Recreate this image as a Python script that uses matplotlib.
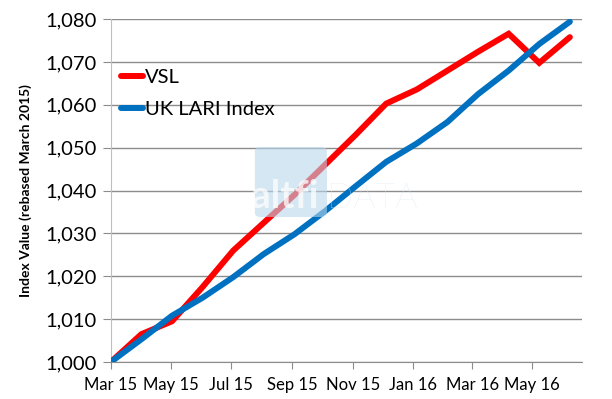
import matplotlib
matplotlib.use("Agg")
import matplotlib.pyplot as plt
import matplotlib.dates as mdates
from matplotlib.patches import FancyBboxPatch
from matplotlib.ticker import FuncFormatter
import pandas as pd

# data points every ~31 days from March 2015
dates = pd.date_range("2015-03-01", periods=16, freq="31D")
vsl = [1000.0, 1006.5, 1009.5, 1017.5, 1026.0, 1032.5, 1039.0, 1046.0,
       1053.0, 1060.3, 1063.6, 1068.0, 1072.4, 1076.6, 1069.8, 1075.8]
lari = [1000.0, 1005.3, 1010.8, 1015.0, 1019.8, 1025.2, 1029.8, 1035.2,
        1041.0, 1046.7, 1051.0, 1056.0, 1062.5, 1068.0, 1074.2, 1079.4]
series_labels = ["VSL", "UK LARI Index"]
y_label = "Index Value (rebased March 2015)"

plt.rcParams["font.family"] = ["Lato", "DejaVu Sans"]

fig = plt.figure(figsize=(6.12, 3.99), dpi=100)
ax = fig.add_axes([0.181, 0.0927, 0.7695, 0.8593])

ax.plot(dates, vsl, color="#ff0000", lw=4.3, solid_capstyle="round",
        solid_joinstyle="miter", label=series_labels[0], zorder=3)
ax.plot(dates, lari, color="#0070c0", lw=4.3, solid_capstyle="round",
        solid_joinstyle="miter", label=series_labels[1], zorder=4)

ax.set_ylim(1000, 1080)
ax.set_yticks(range(1000, 1081, 10))
ax.yaxis.set_major_formatter(FuncFormatter(lambda v, p: f"{v:,.0f}"))
ax.set_xlim(pd.Timestamp("2015-03-01"), pd.Timestamp("2016-06-20"))
ax.xaxis.set_major_locator(mdates.MonthLocator(bymonth=[1, 3, 5, 7, 9, 11]))
ax.xaxis.set_major_formatter(mdates.DateFormatter("%b %y"))

ax.grid(axis="y", color="#8c8c8c", lw=1.0, zorder=0)
for s in ["top", "right"]:
    ax.spines[s].set_visible(False)
ax.spines["left"].set_color("#bfbfbf")
ax.spines["bottom"].set_color("#8c8c8c")
ax.tick_params(axis="y", length=6, color="#8c8c8c", labelsize=14.5, pad=4)
ax.tick_params(axis="x", length=5, color="#8c8c8c", labelsize=12, pad=6)

ax.set_ylabel(y_label, fontsize=10, fontweight="bold", labelpad=10)

leg = ax.legend(loc="upper left", bbox_to_anchor=(0.022, 0.855), frameon=False,
                fontsize=14.5, handlelength=1.1, handletextpad=0.1,
                labelspacing=0.75, borderaxespad=0, borderpad=0)
for h in leg.get_lines():
    h.set_linewidth(4.3)

# watermark
ax.add_patch(FancyBboxPatch((0.306, 0.423), 0.153, 0.204, transform=ax.transAxes,
                            boxstyle="round,pad=0,rounding_size=0.012",
                            facecolor="#b8d7ec", edgecolor="none", alpha=0.6, zorder=5))
ax.text(0.298, 0.45, "altfi", transform=ax.transAxes, fontsize=28, fontweight="bold",
        color="white", alpha=0.75, zorder=6)
ax.text(0.46, 0.45, "DATA", transform=ax.transAxes, fontsize=25, fontweight="light",
        color="#d8e8f4", alpha=0.8, zorder=6)

fig.savefig("out.png", dpi=100)
